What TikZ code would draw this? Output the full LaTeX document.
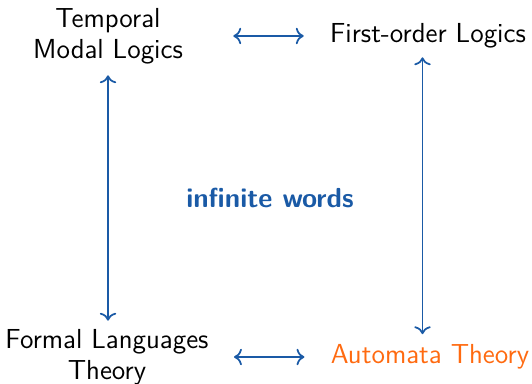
\documentclass[tikz,border=0pt]{standalone}
\usepackage{fontspec}
\usetikzlibrary{arrows.meta}
\definecolor{myblue}{RGB}{26,90,166}
\definecolor{myorange}{RGB}{255,106,16}
\begin{document}
\begin{tikzpicture}[x=0.4pt,y=-0.4pt,
  lbl/.style={inner sep=0pt,align=center,font=\sffamily\fontsize{11}{12.4}\selectfont},
  arr/.style={myblue,line width=0.7pt,{To}-{To}}]
\useasboundingbox (0,0) rectangle (532,384);
\node[lbl] (tml) at (108,36) {Temporal\\Modal Logics};
\node[lbl] (fol) at (428,36) {First-order Logics};
\node[lbl] (fl) at (107,357) {Formal Languages\\Theory};
\node[lbl,text=myorange] (at) at (430,357) {Automata Theory};
\node[lbl,text=myblue,font=\sffamily\bfseries\fontsize{11}{12.4}\selectfont] (iw) at (270,198) {infinite words};
\draw[arr,shorten <=20pt,shorten >=10.4pt] (tml.east) -- (tml.east -| fol.west);
\draw[arr,shorten <=10pt,shorten >=10.4pt] (fl.east) -- (fl.east -| at.west);
\draw[arr,shorten <=4.4pt,shorten >=3.2pt] (tml.south) -- (tml.south |- fl.north);
\draw[arr,shorten <=3.4pt,shorten >=4pt] ([xshift=-2.2pt]fol.south) -- ([xshift=-2.2pt]fol.south |- at.north);
\end{tikzpicture}
\end{document}
